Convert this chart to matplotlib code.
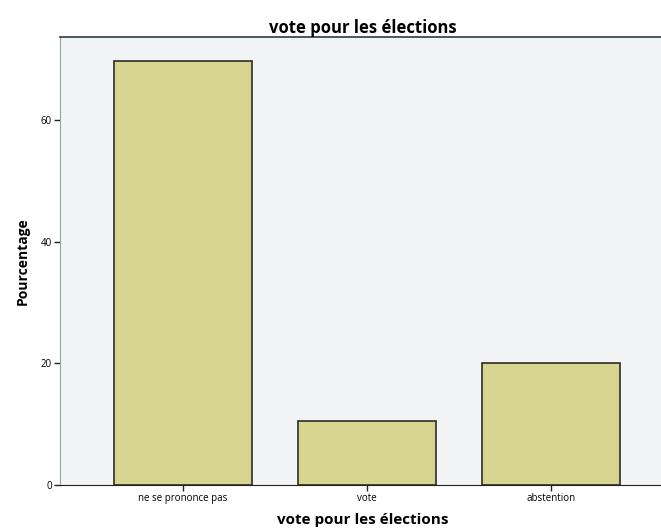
import matplotlib.pyplot as plt

categories = ['ne se prononce pas', 'vote', 'abstention']
pourcentages = [69.6, 10.5, 20.0]
yticks = [0, 20, 40, 60]

fig = plt.figure(figsize=(6.61, 5.32), dpi=100)
ax = fig.add_axes([0.0908, 0.0883, 0.915, 0.842])
ax.set_facecolor('#f2f4f6')

x = list(range(len(categories)))
ax.bar(x, pourcentages, width=0.75, color='#d8d590', edgecolor='#2b2b2b', linewidth=1.2, zorder=3)

ax.set_xlim(-0.667, 2.62)
ax.set_ylim(0, 73.6)
ax.set_xticks(x)
ax.set_xticklabels(categories, fontsize=7, family='Open Sans')
ax.set_yticks(yticks)
ax.set_yticklabels([str(v) for v in yticks], fontsize=7, family='Open Sans')
ax.tick_params(axis='both', length=4, width=1, color='#222222', pad=2)

ax.spines['left'].set_color('#8aa4b8')
ax.spines['bottom'].set_color('#222222')
ax.spines['top'].set_color('#3a4a55')
ax.spines['right'].set_visible(False)
ax.spines['top'].set_linewidth(1.3)

ax.set_title('vote pour les élections', fontsize=12, fontweight='bold', family='Open Sans', pad=3)
ax.set_xlabel('vote pour les élections', fontsize=11, fontweight='bold', family='Open Sans', labelpad=6)
ax.set_ylabel('Pourcentage', fontsize=10, fontweight='bold', family='Open Sans', labelpad=8)

fig.savefig('out.png', dpi=100)
